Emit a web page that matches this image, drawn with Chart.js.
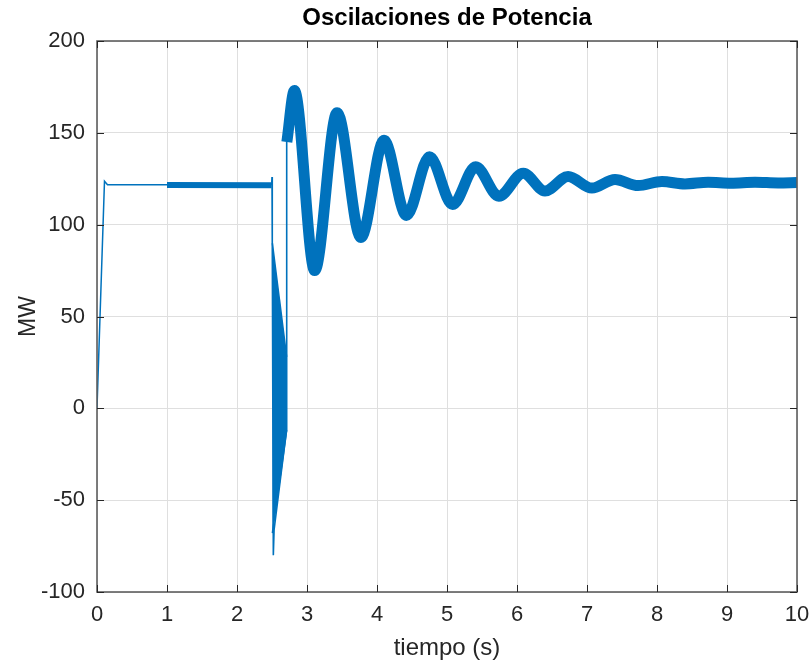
<!DOCTYPE html>
<html>
<head>
<meta charset="utf-8">
<script src="https://cdn.jsdelivr.net/npm/chart.js@4/dist/chart.umd.min.js"></script>
<style>
  html, body { margin: 0; padding: 0; background: #ffffff; }
  #wrap { width: 809px; height: 663px; }
</style>
</head>
<body>
<div id="wrap"><canvas id="c" width="809" height="663"></canvas></div>
<script>
// ---- data ----
const xTicks = [0, 1, 2, 3, 4, 5, 6, 7, 8, 9, 10];
const yTicks = [-100, -50, 0, 50, 100, 150, 200];

// start-up (thin trace)
const tStart = [0, 0.107, 0.15, 1.0];
const pStart = [0, 123.7, 121.8, 121.8];

// steady band before the fault
const tPre = [1.0, 2.495];
const pPre = [121.6, 121.5];

// fault transient (thin trace)
const tFault = [2.495, 2.5, 2.504, 2.519, 2.53, 2.707, 2.707, 2.713];
const pFault = [121.5, 126, 90, -80, -66, -12, 145, 148];

// fault wedge edges
const tWedgeTop = [2.505, 2.71];
const pWedgeTop = [90, 28];
const tWedgeBot = [2.505, 2.71];
const pWedgeBot = [-68, -12];

// post-fault power oscillation (centre of the band)
const tOsc = [2.712, 2.82, 3.11, 3.43, 3.77, 4.10, 4.42, 4.75, 5.08, 5.41, 5.74, 6.09, 6.40, 6.73, 7.07, 7.40, 7.73, 8.07, 8.40, 8.73, 9.06, 9.40, 9.73, 10.0];
const pOsc = [145, 173, 75, 161, 93, 146, 105, 137, 111, 131.5, 115.5, 128, 118.3, 126.2, 119.9, 124.6, 121.3, 123.5, 122.2, 123.1, 122.6, 123.1, 122.7, 122.9];

const pts = (t, p) => t.map((x, i) => ({ x: x, y: p[i] }));

const BLUE = '#0072BD';
const FONT = "'Liberation Sans', Arial, sans-serif";

const boxPlugin = {
  id: 'boxPlugin',
  afterDraw(chart) {
    const { ctx, chartArea: a, scales } = chart;
    ctx.save();
    ctx.strokeStyle = '#5e5e5e';
    ctx.lineWidth = 1.6;
    ctx.strokeRect(a.left, a.top, a.right - a.left, a.bottom - a.top);
    ctx.strokeStyle = '#262626';
    ctx.lineWidth = 1;
    const L = 7;
    ctx.beginPath();
    xTicks.forEach(v => {
      const x = Math.round(scales.x.getPixelForValue(v)) + 0.5;
      ctx.moveTo(x, a.bottom); ctx.lineTo(x, a.bottom - L);
      ctx.moveTo(x, a.top); ctx.lineTo(x, a.top + L);
    });
    yTicks.forEach(v => {
      const y = Math.round(scales.y.getPixelForValue(v)) + 0.5;
      ctx.moveTo(a.left, y); ctx.lineTo(a.left + L, y);
      ctx.moveTo(a.right, y); ctx.lineTo(a.right - L, y);
    });
    ctx.stroke();
    ctx.restore();
  }
};

new Chart(document.getElementById('c'), {
  type: 'line',
  data: {
    datasets: [
      { data: pts(tStart, pStart), borderColor: BLUE, borderWidth: 1.5, pointRadius: 0, tension: 0, clip: 0 },
      { data: pts(tPre, pPre), borderColor: BLUE, borderWidth: 6, pointRadius: 0, tension: 0, clip: 0, borderCapStyle: 'butt' },
      { data: pts(tFault, pFault), borderColor: BLUE, borderWidth: 1.6, pointRadius: 0, tension: 0, clip: 0 },
      { data: pts(tWedgeTop, pWedgeTop), borderColor: BLUE, borderWidth: 1.5, pointRadius: 0, tension: 0, fill: '+1', backgroundColor: BLUE, clip: 0 },
      { data: pts(tWedgeBot, pWedgeBot), borderColor: BLUE, borderWidth: 1.5, pointRadius: 0, tension: 0, clip: 0 },
      { data: pts(tOsc, pOsc), borderColor: BLUE, borderWidth: 11, pointRadius: 0, cubicInterpolationMode: 'monotone', clip: 0, borderJoinStyle: 'round' }
    ]
  },
  options: {
    responsive: false,
    animation: false,
    devicePixelRatio: 1,
    layout: { padding: { left: 0, right: 0, top: 0, bottom: 0 } },
    plugins: {
      legend: { display: false },
      tooltip: { enabled: false },
      title: {
        display: true,
        fullSize: false,
        text: 'Oscilaciones de Potencia',
        color: '#000000',
        font: { family: FONT, size: 24, weight: 'bold', lineHeight: 1.2 },
        padding: { top: 4, bottom: 8.2 }
      }
    },
    scales: {
      x: {
        type: 'linear',
        min: 0, max: 10,
        afterBuildTicks(scale) { scale.ticks = xTicks.map(v => ({ value: v })); },
        afterFit(scale) { scale.height = 71; scale.paddingRight = 12; },
        ticks: { color: '#262626', font: { family: FONT, size: 22 }, padding: 10, maxRotation: 0, autoSkip: false },
        grid: { color: '#dfdfdf', lineWidth: 1, drawTicks: false },
        border: { display: false },
        title: { display: true, text: 'tiempo (s)', color: '#262626', font: { family: FONT, size: 24 }, padding: { top: 4, bottom: 0 } }
      },
      y: {
        type: 'linear',
        min: -100, max: 200,
        afterBuildTicks(scale) { scale.ticks = yTicks.map(v => ({ value: v })); },
        afterFit(scale) { scale.width = 97; },
        ticks: { color: '#262626', font: { family: FONT, size: 22 }, padding: 12, autoSkip: false },
        grid: { color: '#dfdfdf', lineWidth: 1, drawTicks: false },
        border: { display: false },
        title: { display: true, text: 'MW', color: '#262626', font: { family: FONT, size: 23 }, padding: { top: 15, bottom: 0 } }
      }
    }
  },
  plugins: [boxPlugin]
});
</script>
</body>
</html>
